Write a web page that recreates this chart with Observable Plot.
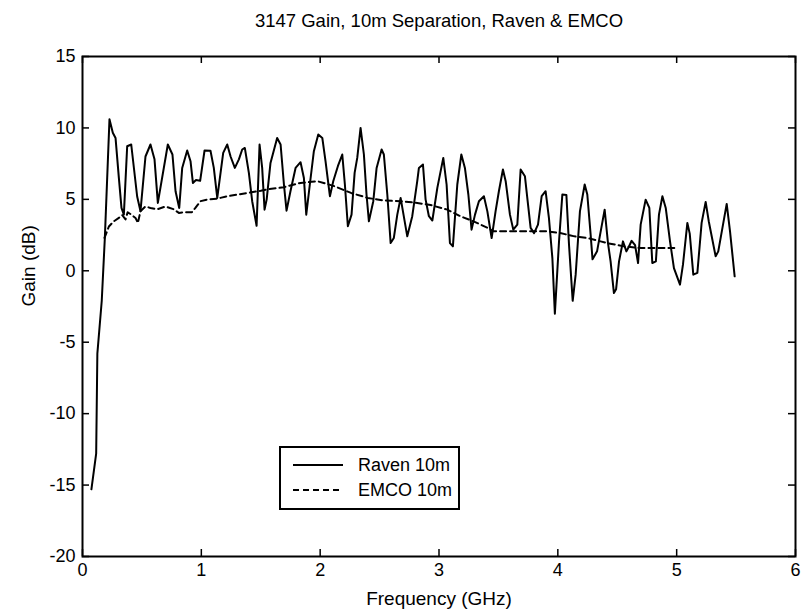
<!DOCTYPE html>
<html>
<head>
<meta charset="utf-8">
<script src="https://cdn.jsdelivr.net/npm/d3@7"></script>
<script src="https://cdn.jsdelivr.net/npm/@observablehq/plot@0.6"></script>
<style>
  html, body { margin: 0; padding: 0; background: #fff; }
  #wrap { position: relative; width: 802px; height: 612px; font-family: "Liberation Sans", Arial, sans-serif; }
  #legend { position: absolute; left: 279px; top: 446px; width: 177px; height: 60px; border: 2px solid #000; background: #fff; font-size: 18px; color: #000; }
  #legend .row { position: absolute; left: 0; height: 20px; line-height: 20px; }
  #legend svg { position: absolute; left: 12px; top: 0; }
  #legend span { position: absolute; left: 77px; top: 0; white-space: nowrap; }
</style>
</head>
<body>
<div id="wrap"></div>
<script>
const chartTitle = "3147 Gain, 10m Separation, Raven & EMCO";
const xLabel = "Frequency (GHz)";
const yLabel = "Gain (dB)";
const xTicks = [0, 1, 2, 3, 4, 5, 6];
const yTicks = [-20, -15, -10, -5, 0, 5, 10, 15];
const seriesNames = ["Raven 10m", "EMCO 10m"];

const ravenFreq = [0.075,0.115,0.125,0.162,0.188,0.227,0.255,0.278,0.306,0.328,0.348,0.376,0.41,0.46,0.488,0.53,0.572,0.606,0.634,0.718,0.757,0.783,0.814,0.839,0.881,0.909,0.929,0.955,0.99,1.027,1.077,1.105,1.134,1.184,1.218,1.246,1.282,1.316,1.344,1.366,1.4,1.428,1.465,1.49,1.512,1.532,1.55,1.582,1.638,1.667,1.695,1.717,1.75,1.793,1.835,1.863,1.883,1.913,1.947,1.984,2.018,2.045,2.082,2.11,2.149,2.186,2.208,2.233,2.264,2.29,2.312,2.34,2.368,2.39,2.41,2.447,2.475,2.517,2.536,2.565,2.593,2.62,2.649,2.677,2.733,2.775,2.817,2.831,2.865,2.887,2.915,2.944,2.986,3.036,3.064,3.092,3.117,3.154,3.188,3.218,3.247,3.274,3.303,3.336,3.378,3.407,3.443,3.476,3.504,3.538,3.561,3.597,3.625,3.659,3.687,3.723,3.743,3.771,3.8,3.833,3.864,3.897,3.925,3.954,3.975,4.01,4.038,4.072,4.094,4.125,4.15,4.186,4.226,4.248,4.276,4.292,4.33,4.394,4.422,4.444,4.472,4.49,4.515,4.548,4.577,4.599,4.621,4.65,4.675,4.697,4.739,4.77,4.795,4.825,4.851,4.88,4.908,4.944,4.977,5.028,5.053,5.09,5.11,5.14,5.174,5.21,5.244,5.27,5.328,5.35,5.421,5.449,5.488];
const ravenGain = [-15.3,-12.8,-5.8,-2.1,2.3,10.6,9.66,9.3,6.5,4.4,3.93,8.72,8.84,5.2,4.17,8.0,8.84,7.8,4.75,8.84,8.14,5.57,4.4,7.2,8.42,7.67,6.15,6.35,6.3,8.42,8.4,7.2,5.1,8.25,8.84,8.0,7.2,7.8,8.49,8.6,6.85,4.87,3.15,8.84,7.2,4.28,5.0,7.55,9.3,8.84,6.04,4.21,5.57,7.2,7.6,6.5,3.93,6.04,8.37,9.54,9.3,7.67,5.22,6.27,7.32,8.14,6.04,3.12,3.93,6.85,7.9,10.0,8.14,5.34,3.46,4.87,7.2,8.49,8.14,5.34,1.94,2.3,3.93,5.1,2.41,3.82,6.27,7.2,7.44,5.0,3.82,3.52,5.8,7.9,6.04,1.94,1.71,6.04,8.14,7.2,5.34,2.88,3.93,4.87,5.22,4.16,2.29,4.16,5.57,7.09,6.27,3.93,2.88,3.23,7.09,6.62,5.1,3.0,2.64,3.23,5.22,5.57,3.7,0.89,-3.0,2.06,5.34,5.3,1.83,-2.1,-0.27,4.16,6.04,5.34,2.53,0.8,1.36,4.28,1.94,0.66,-1.56,-1.3,0.66,2.06,1.36,1.7,2.1,1.8,0.54,3.23,4.98,4.4,0.54,0.66,3.93,5.22,4.4,2.06,0.19,-0.97,0.43,3.35,2.6,-0.27,-0.15,3.35,4.82,3.47,1.01,1.36,4.68,2.76,-0.39];

const emcoFreq = [0.185,0.222,0.263,0.306,0.334,0.362,0.38,0.41,0.446,0.466,0.488,0.53,0.572,0.628,0.699,0.769,0.811,0.853,0.921,0.95,0.993,1.049,1.134,1.218,1.302,1.386,1.5,1.55,1.695,1.835,1.975,2.03,2.12,2.26,2.4,2.536,2.677,2.817,2.93,3.07,3.18,3.29,3.41,3.46,3.69,3.91,4.02,4.14,4.25,4.36,4.414,4.555,4.7,4.84,4.98];
const emcoGain = [2.3,3.1,3.46,3.7,3.9,3.6,4.1,3.93,3.7,3.35,4.17,4.5,4.4,4.3,4.5,4.3,4.05,4.1,4.1,4.4,4.87,4.99,5.05,5.22,5.33,5.45,5.6,5.69,5.85,6.15,6.27,6.15,5.92,5.45,5.1,4.92,4.87,4.75,4.6,4.28,3.82,3.46,3.0,2.76,2.76,2.76,2.64,2.41,2.29,2.06,1.94,1.71,1.59,1.59,1.59];

const raven = ravenFreq.map((f, i) => ({f, g: ravenGain[i]}));
const emco = emcoFreq.map((f, i) => ({f, g: emcoGain[i]}));

const W = 802, H = 612;
const mL = 82, mR = 7, mT = 56, mB = 56;
const plotW = W - mL - mR, plotH = H - mT - mB;
const tickLen = 7;

const chart = Plot.plot({
  width: W, height: H,
  marginLeft: mL, marginRight: mR, marginTop: mT, marginBottom: mB,
  style: { fontFamily: "'Liberation Sans', Arial, sans-serif", fontSize: "18px", color: "#000", background: "#fff" },
  x: { domain: [0, 6], ticks: xTicks, label: null },
  y: { domain: [-20, 15], ticks: yTicks, label: null },
  marks: [
    Plot.axisX(xTicks, { tickSize: 0, tickPadding: 7, label: null, tickFormat: d => String(d) }),
    Plot.axisY(yTicks, { tickSize: 0, tickPadding: 7, label: null, tickFormat: d => String(d) }),
    Plot.tickX(xTicks, { x: d => d, insetTop: plotH - tickLen, strokeWidth: 1.5 }),
    Plot.tickX(xTicks, { x: d => d, insetBottom: plotH - tickLen, strokeWidth: 1.5 }),
    Plot.tickY(yTicks, { y: d => d, insetRight: plotW - tickLen, strokeWidth: 1.5 }),
    Plot.tickY(yTicks, { y: d => d, insetLeft: plotW - tickLen, strokeWidth: 1.5 }),
    Plot.line(emco, { x: "f", y: "g", stroke: "#000", strokeWidth: 2, strokeDasharray: "6,4" }),
    Plot.line(raven, { x: "f", y: "g", stroke: "#000", strokeWidth: 2 }),
    Plot.frame({ stroke: "#000", strokeWidth: 2 }),
    Plot.text([chartTitle], { text: d => d, frameAnchor: "top", lineAnchor: "middle", dy: -35, fontSize: 18.5 }),
    Plot.text([xLabel], { text: d => d, frameAnchor: "bottom", lineAnchor: "middle", dy: 42, fontSize: 19 }),
    Plot.text([yLabel], { text: d => d, frameAnchor: "left", lineAnchor: "middle", dx: -54, rotate: -90, fontSize: 19 })
  ]
});

const wrap = document.getElementById("wrap");
wrap.appendChild(chart);

const legend = document.createElement("div");
legend.id = "legend";
const dashes = ["none", "6,4"];
seriesNames.forEach((name, i) => {
  const row = document.createElement("div");
  row.className = "row";
  row.style.top = (7 + i * 25) + "px";
  row.style.width = "100%";
  row.innerHTML = `<svg width="52" height="20"><line x1="0" x2="50" y1="10" y2="10" stroke="#000" stroke-width="2" stroke-dasharray="${dashes[i]}"/></svg><span>${name}</span>`;
  legend.appendChild(row);
});
wrap.appendChild(legend);
</script>
</body>
</html>
